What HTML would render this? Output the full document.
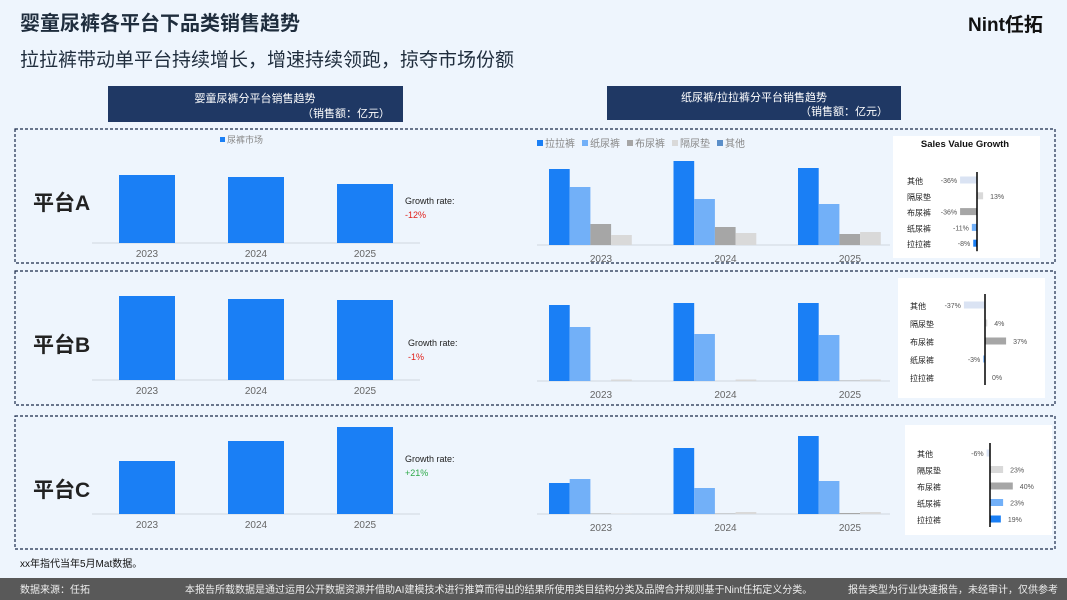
<!DOCTYPE html>
<html><head><meta charset="utf-8">
<style>
body{margin:0;width:1067px;height:600px;overflow:hidden;background:#eef5fd;font-family:"Liberation Sans","Noto Sans CJK SC",sans-serif;}
svg{display:block}
</style></head>
<body>
<svg id="s" width="1067" height="600" xmlns="http://www.w3.org/2000/svg" font-family="Liberation Sans, Noto Sans CJK SC, sans-serif">
<rect width="1067" height="600" fill="#eef5fd"/>
<text x="20" y="30" font-size="20" font-weight="bold" fill="#1f2d3d">婴童尿裤各平台下品类销售趋势</text>
<text x="20" y="66" font-size="19" fill="#1f2d3d">拉拉裤带动单平台持续增长，增速持续领跑，掠夺市场份额</text>
<text x="968" y="31" font-size="19" font-weight="bold" fill="#111">Nint任拓</text>
<rect x="108" y="86" width="295" height="36" fill="#1f3864"/>
<text x="255" y="102" font-size="11" fill="#fff" text-anchor="middle">婴童尿裤分平台销售趋势</text>
<text x="390" y="117" font-size="11" fill="#fff" text-anchor="end">（销售额：亿元）</text>
<rect x="607" y="86" width="294" height="34" fill="#1f3864"/>
<text x="754" y="101" font-size="11" fill="#fff" text-anchor="middle">纸尿裤/拉拉裤分平台销售趋势</text>
<text x="888" y="115" font-size="11" fill="#fff" text-anchor="end">（销售额：亿元）</text>
<text x="20" y="567" font-size="10" fill="#111">xx年指代当年5月Mat数据。</text>
<rect x="0" y="578" width="1067" height="22" fill="#595959"/>
<text x="20" y="593" font-size="10" fill="#eee">数据来源：任拓</text>
<text x="185" y="593" font-size="10" fill="#eee">本报告所载数据是通过运用公开数据资源并借助AI建模技术进行推算而得出的结果所使用类目结构分类及品牌合并规则基于Nint任拓定义分类。</text>
<text x="1058" y="593" font-size="10" fill="#eee" text-anchor="end">报告类型为行业快速报告，未经审计，仅供参考</text>
<g id="g"></g>
</svg>
<script>
const years=["2023","2024","2025"];
const platforms=["平台A","平台B","平台C"];
const totalA=[68,66,59];
const totalB=[84,81,80];
const totalC=[53,73,87];
const growthLabels=["-12%","-1%","+21%"];
const cats=["拉拉裤","纸尿裤","布尿裤","隔尿垫","其他"];
const lalaA=[76,84,77], zhiA=[58,46,41], buA=[21,18,11], geA=[10,12,13], otherA=[0,0,0];
const lalaB=[76,78,78], zhiB=[54,47,46], buB=[0,0,0.5], geB=[1.5,1.5,1.5], otherB=[0,0,0];
const lalaC=[31,66,78], zhiC=[35,26,33], buC=[0.5,0.5,1], geC=[0.5,2,2], otherC=[0,0,0];
const growthCats=["其他","隔尿垫","布尿裤","纸尿裤","拉拉裤"];
const growthA=[-36,13,-36,-11,-8];
const growthB=[-37,4,37,-3,0];
const growthC=[-6,23,40,23,19];

const NS="http://www.w3.org/2000/svg";
const G=document.getElementById('g');
function el(t,a,p){const e=document.createElementNS(NS,t);for(const k in a)e.setAttribute(k,a[k]);(p||G).appendChild(e);return e;}
function tx(x,y,s,a,p){const e=el('text',Object.assign({x:x,y:y},a),p);e.textContent=s;return e;}
const colors=["#1a7ff5","#72b0f8","#a6a6a6","#d9d9d9","#dae3f3"];
const legendColors=["#1a7ff5","#72b0f8","#a6a6a6","#d9d9d9","#5b8fc9"];
const panels=[
 {top:129,h:134,base:243,midBase:245,total:totalA,cats:[lalaA,zhiA,buA,geA,otherA],gr:growthA,box:[893,136,147,122],ax:977,gTop:172,gY0:180,gStep:15.8,sc:0.47,title:true},
 {top:271,h:134,base:380,midBase:381,total:totalB,cats:[lalaB,zhiB,buB,geB,otherB],gr:growthB,box:[898,278,147,120],ax:985,gTop:294,gY0:305,gStep:18,sc:0.57},
 {top:416,h:133,base:514,midBase:514,total:totalC,cats:[lalaC,zhiC,buC,geC,otherC],gr:growthC,box:[905,425,147,110],ax:990,gTop:443,gY0:453,gStep:16.5,sc:0.57}
];
const yScale=v=>v*1.0;
const leftX=i=>147+i*109;
const midX=i=>549+i*124.5;
panels.forEach((p,pi)=>{
 const pg=el('g',{});
 
 
 const r=el('rect',{x:15,y:p.top,width:1040,height:p.h,fill:'none',stroke:'#1a2a4a','stroke-dasharray':'3,2','stroke-width':1.2},pg);
 
 
 const lb=tx(33,p.top+81,platforms[pi],{'font-size':21,'font-weight':'bold',fill:'#222'},pg);
 
 
 el('line',{x1:92,x2:420,y1:p.base,y2:p.base,stroke:'#d0d7e0'},pg);
 if(pi==0){
  el('rect',{x:220,y:137,width:5,height:5,fill:'#1a7ff5'},pg);
  tx(227,143,'尿裤市场',{'font-size':9,fill:'#888'},pg);
 }
 p.total.forEach((v,i)=>{
  const b=el('rect',{x:leftX(i)-28,y:p.base-yScale(v),width:56,height:yScale(v),fill:'#1a7ff5'},pg);
  
  
  tx(leftX(i),p.base+14,years[i],{'font-size':10,fill:'#666','text-anchor':'middle'},pg);
 });
 const gy=p.top+(pi==2?46:75);
 tx(pi==1?408:405,gy,'Growth rate:',{'font-size':9,fill:'#222'},pg);
 const gv=tx(pi==1?408:405,gy+14,growthLabels[pi],{'font-size':9,fill:pi==2?'#2eaa4a':'#e0201a'},pg);
 
 
 el('line',{x1:537,x2:890,y1:p.midBase,y2:p.midBase,stroke:'#d0d7e0'},pg);
 if(pi==0){
  let lx=537;
  cats.forEach((c,ci)=>{
   el('rect',{x:lx,y:140,width:6,height:6,fill:legendColors[ci]},pg);
   const t=tx(lx+8,147,c,{'font-size':10,fill:'#888'},pg);
   
   
   lx+=8+c.length*10+(ci==4?0:7);
  });
 }
 years.forEach((y,i)=>{
  p.cats.forEach((arr,ci)=>{
   const v=arr[i]; if(v<=0)return;
   const b=el('rect',{x:midX(i)+ci*20.7,y:p.midBase-yScale(v),width:20.7,height:yScale(v),fill:colors[ci]},pg);
   
   
  });
  tx(midX(i)+52,p.midBase+17,y,{'font-size':10,fill:'#666','text-anchor':'middle'},pg);
 });
 const [bx,by,bw,bh]=p.box;
 const wb=el('rect',{x:bx,y:by,width:bw,height:bh,fill:'#fff'},pg);
 
 
 if(p.title) tx(bx+72,by+11,'Sales Value Growth',{'font-size':9.5,'font-weight':'bold',fill:'#111','text-anchor':'middle'},pg);
 const gcolors=["#dae3f3","#d9d9d9","#a6a6a6","#72b0f8","#1a7ff5"];
 p.gr.forEach((v,ci)=>{
  const cy=p.gY0+ci*p.gStep;
  tx(bx+(pi==0?14:12),cy+4,growthCats[ci],{'font-size':8,fill:'#222'},pg);
  const w=Math.abs(v)*p.sc;
  const b=el('rect',{x:v<0?p.ax-w:p.ax,y:cy-3.5,width:w,height:7,fill:gcolors[ci]},pg);
  
  
  const lx=v<0?p.ax-w-3:p.ax+w+7;
  tx(lx,cy+3,v+'%',{'font-size':7,fill:'#555','text-anchor':v<0?'end':'start'},pg);
 });
 el('line',{x1:p.ax,x2:p.ax,y1:p.gTop,y2:p.gY0+4*p.gStep+8,stroke:'#000','stroke-width':1.5},pg);
});
</script>
</body></html>
